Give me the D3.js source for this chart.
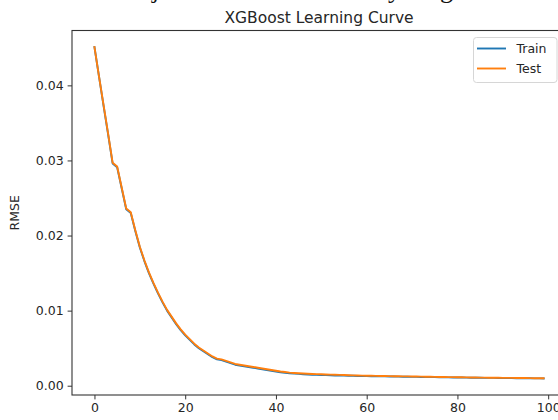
<!DOCTYPE html>
<html><head><meta charset="utf-8">
<script src="https://cdn.jsdelivr.net/npm/d3@7"></script>
<style>
html,body{margin:0;padding:0;background:#fff;overflow:hidden}
svg{display:block}
text{font-family:"DejaVu Sans",sans-serif}
</style></head>
<body>
<svg id="chart" width="558" height="420"></svg>
<script>
const title = "XGBoost Learning Curve";
const yLabel = "RMSE";
const seriesNames = ["Train", "Test"];
const xTicks = [0, 20, 40, 60, 80, 100];
const yTicks = [0.00, 0.01, 0.02, 0.03, 0.04];
const trainRMSE = [
0.0451,0.0412,0.0373,0.0335,0.0296,0.0291,0.0263,0.0235,0.0230,0.0206,
0.0184,0.0166,0.0150,0.0136,0.0123,0.0111,0.0100,0.0091,0.0082,0.0074,
0.0067,0.0061,0.0055,0.0050,0.0046,0.0042,0.0038,0.0035,0.0034,0.0032,
0.0030,0.0028,0.0027,0.0026,0.0025,0.0024,0.0023,0.0022,0.0021,0.0020,
0.0019,0.0018,0.00172,0.00166,0.00161,0.00157,0.00153,0.00150,0.00147,0.00145,
0.00143,0.00141,0.00139,0.00137,0.00135,0.00134,0.00133,0.00132,0.00130,0.00129,
0.00128,0.00127,0.00126,0.00125,0.00124,0.00123,0.00122,0.00121,0.00120,0.00119,
0.00118,0.00118,0.00117,0.00116,0.00115,0.00114,0.00113,0.00112,0.00111,0.00110,
0.00109,0.00109,0.00108,0.00107,0.00106,0.00106,0.00105,0.00104,0.00104,0.00103,
0.00102,0.00102,0.00101,0.00100,0.00100,0.00099,0.00099,0.00098,0.00098,0.00097
];
const testRMSE = [
0.0451,0.0412,0.0374,0.0336,0.0297,0.0292,0.0264,0.0236,0.0231,0.0207,
0.0185,0.0167,0.0151,0.0137,0.0124,0.0112,0.0101,0.0092,0.0083,0.0075,
0.0068,0.0062,0.0056,0.0051,0.0047,0.0043,0.0039,0.0036,0.0035,0.0033,
0.0031,0.0029,0.0028,0.0027,0.0026,0.0025,0.0024,0.0023,0.0022,0.0021,
0.0020,0.0019,0.00182,0.00175,0.00170,0.00166,0.00162,0.00159,0.00156,0.00154,
0.00152,0.00150,0.00148,0.00146,0.00144,0.00142,0.00140,0.00138,0.00137,0.00135,
0.00133,0.00132,0.00131,0.00130,0.00129,0.00128,0.00127,0.00126,0.00125,0.00124,
0.00123,0.00122,0.00121,0.00120,0.00119,0.00118,0.00117,0.00116,0.00115,0.00114,
0.00112,0.00112,0.00111,0.00110,0.00109,0.00108,0.00108,0.00107,0.00106,0.00106,
0.00105,0.00104,0.00104,0.00103,0.00102,0.00102,0.00101,0.00100,0.00100,0.00099
];
const colors = ["#1f77b4", "#ff7f0e"];

const svg = d3.select("#chart");
const L = 72, R = 566.1, T = 30.5, B = 395;
const n = testRMSE.length;
const xPad = (n - 1) * 0.05;
const x = d3.scaleLinear().domain([-xPad, n - 1 + xPad]).range([L, R]);
const all = trainRMSE.concat(testRMSE);
const ymin = d3.min(all), ymax = d3.max(all), yp = (ymax - ymin) * 0.05;
const y = d3.scaleLinear().domain([ymin - yp, ymax + yp]).range([B, T]);

// cut-off heading above the figure (only descenders visible)
const head = svg.append("text").attr("y", -2).style("font-family", "'Liberation Serif',serif").style("font-size", "26px").attr("fill", "#111");
head.append("tspan").attr("x", 152).text("j");
head.append("tspan").attr("x", 388).text("y");
head.append("tspan").attr("x", 440).text("g");

svg.append("text").attr("x", (L + R) / 2).attr("y", 23).attr("text-anchor", "middle")
  .style("font-size", "15.5px").attr("fill", "#262626").text(title);

const line = d3.line().x((d, i) => x(i)).y(d => y(d));
[trainRMSE, testRMSE].forEach((s, k) => {
  svg.append("path").datum(s).attr("d", line).attr("fill", "none")
    .attr("stroke", colors[k]).attr("stroke-width", 1.9).attr("stroke-linejoin", "round").attr("stroke-linecap", "square");
});

const xAxis = svg.append("g").attr("transform", `translate(0,${B})`)
  .call(d3.axisBottom(x).tickValues(xTicks).tickFormat(d3.format("d")).tickSize(4.4).tickPadding(4));
const yAxis = svg.append("g").attr("transform", `translate(${L},0)`)
  .call(d3.axisLeft(y).tickValues(yTicks).tickFormat(d3.format(".2f")).tickSize(4.4).tickPadding(4));
[xAxis, yAxis].forEach(g => {
  g.select(".domain").remove();
  g.selectAll("line").attr("stroke", "#333").attr("stroke-width", 1);
  g.selectAll("text").style("font-family", "'DejaVu Sans',sans-serif").style("font-size", "12.5px").attr("fill", "#262626");
});

svg.append("rect").attr("x", L).attr("y", T).attr("width", R - L).attr("height", B - T)
  .attr("fill", "none").attr("stroke", "#333").attr("stroke-width", 1.1);

svg.append("text").attr("transform", `translate(19,${(T + B) / 2}) rotate(-90)`).attr("text-anchor", "middle")
  .style("font-size", "12.5px").attr("fill", "#262626").text(yLabel);

const lg = svg.append("g");
lg.append("rect").attr("x", 473.5).attr("y", 37.5).attr("width", 83.5).attr("height", 45).attr("rx", 3)
  .attr("fill", "#fff").attr("fill-opacity", 0.8).attr("stroke", "#d6d6d6").attr("stroke-width", 1);
seriesNames.forEach((nm, k) => {
  const yy = 48.5 + k * 20;
  lg.append("line").attr("x1", 477).attr("x2", 506).attr("y1", yy).attr("y2", yy)
    .attr("stroke", colors[k]).attr("stroke-width", 1.9);
  lg.append("text").attr("x", 516.5).attr("y", yy + 4.5).style("font-size", "12.5px").attr("fill", "#262626").text(nm);
});
</script>
</body></html>
